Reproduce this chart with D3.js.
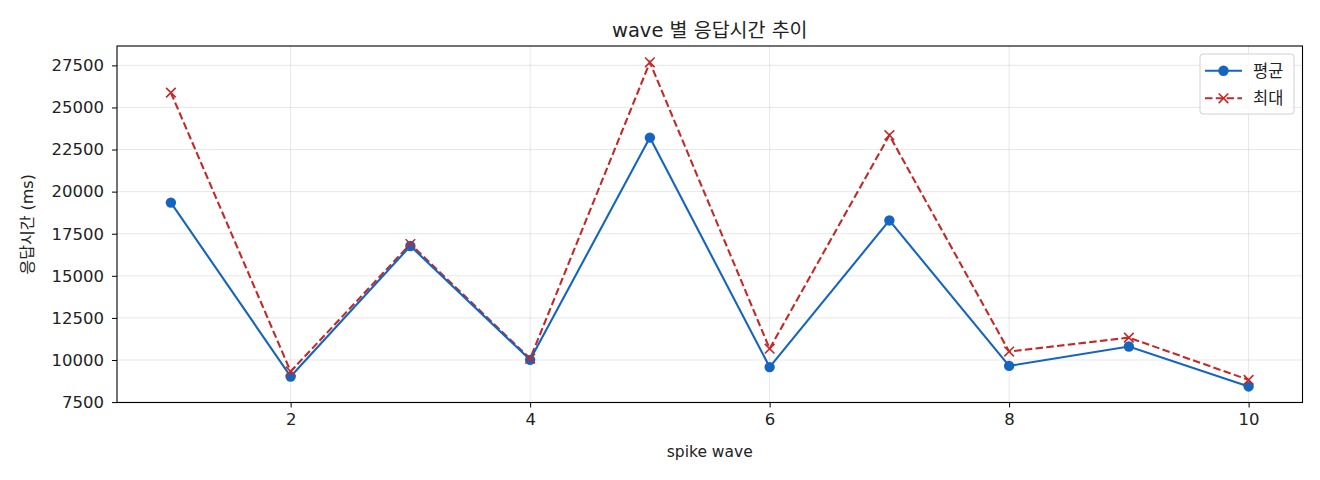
<!DOCTYPE html>
<html><head><meta charset="utf-8">
<script src="https://cdn.jsdelivr.net/npm/d3@7"></script>
<style>body{margin:0;background:#fff}svg{display:block}text{font-family:"DejaVu Sans","Noto Sans CJK KR",sans-serif;fill:#222}</style>
</head><body><svg id="c" width="1320" height="480"></svg>
<script>
const waves = [1,2,3,4,5,6,7,8,9,10];
const avgValues = [19350, 9020, 16770, 10010, 23210, 9580, 18290, 9650, 10800, 8430];
const maxValues = [25880, 9320, 16890, 10080, 27680, 10670, 23350, 10500, 11330, 8820];
const xTicks = [2,4,6,8,10];
const yTicks = [7500,10000,12500,15000,17500,20000,22500,25000,27500];
const seriesNames = ["평균","최대"];
const titleText = "wave 별 응답시간 추이";
const xLabel = "spike wave";
const yLabel = "응답시간 (ms)";

const BLUE = "#1565c0", RED = "#c62828";
const L=117, R=1302.5, T=46, B=402.5;
const svg = d3.select("#c");
const x = d3.scaleLinear().domain([0.55,10.45]).range([L,R]);
const y = d3.scaleLinear().domain([7476,28650]).range([B,T]);

// grid
const g = svg.append("g");
g.selectAll(".gx").data(xTicks).join("line").attr("x1",d=>x(d)).attr("x2",d=>x(d)).attr("y1",T).attr("y2",B).attr("stroke","#b0b0b0").attr("stroke-opacity",0.35).attr("stroke-width",0.9);
g.selectAll(".gy").data(yTicks).join("line").attr("y1",d=>y(d)).attr("y2",d=>y(d)).attr("x1",L).attr("x2",R).attr("stroke","#b0b0b0").attr("stroke-opacity",0.35).attr("stroke-width",0.9);

// axes
const xAxis = svg.append("g").attr("transform",`translate(0,${B})`).call(d3.axisBottom(x).tickValues(xTicks).tickSize(5).tickPadding(6).tickFormat(d3.format("d")));
const yAxis = svg.append("g").attr("transform",`translate(${L},0)`).call(d3.axisLeft(y).tickValues(yTicks).tickSize(5).tickPadding(8).tickFormat(d3.format("d")));
[xAxis,yAxis].forEach(a=>{a.select(".domain").remove();a.selectAll("text").style("font-size","16.5px").style("font-family",null).attr("fill","#222");a.selectAll("line").attr("stroke","#000").attr("stroke-width",1);});
svg.append("rect").attr("x",L).attr("y",T).attr("width",R-L).attr("height",B-T).attr("fill","none").attr("stroke","#000").attr("stroke-width",1.1);

// lines
const line = d3.line().x((d,i)=>x(waves[i])).y(d=>y(d));
svg.append("path").datum(maxValues).attr("d",line).attr("fill","none").attr("stroke",RED).attr("stroke-width",2.1).attr("stroke-dasharray","7.5,3.3");
svg.append("path").datum(avgValues).attr("d",line).attr("fill","none").attr("stroke",BLUE).attr("stroke-width",2.1);
svg.selectAll(".dot").data(avgValues).join("circle").attr("cx",(d,i)=>x(waves[i])).attr("cy",d=>y(d)).attr("r",5.2).attr("fill",BLUE);
const xs = 4.8;
svg.selectAll(".xm").data(maxValues).join("path").attr("d",(d,i)=>{const cx=x(waves[i]),cy=y(d);return `M${cx-xs},${cy-xs}L${cx+xs},${cy+xs}M${cx-xs},${cy+xs}L${cx+xs},${cy-xs}`;}).attr("stroke",RED).attr("stroke-width",1.6).attr("fill","none");

// legend
const lg = svg.append("g");
lg.append("rect").attr("x",1200).attr("y",54).attr("width",94).attr("height",60).attr("rx",3).attr("fill","#fff").attr("fill-opacity",0.8).attr("stroke","#d0d0d0");
lg.append("line").attr("x1",1205).attr("x2",1242).attr("y1",70.7).attr("y2",70.7).attr("stroke",BLUE).attr("stroke-width",2.1);
lg.append("circle").attr("cx",1223.5).attr("cy",70.7).attr("r",5.2).attr("fill",BLUE);
lg.append("line").attr("x1",1205).attr("x2",1242).attr("y1",98.3).attr("y2",98.3).attr("stroke",RED).attr("stroke-width",2.1).attr("stroke-dasharray","7.5,3.3");
lg.append("path").attr("d",`M${1223.5-xs},${98.3-xs}L${1223.5+xs},${98.3+xs}M${1223.5-xs},${98.3+xs}L${1223.5+xs},${98.3-xs}`).attr("stroke",RED).attr("stroke-width",1.6);
lg.selectAll(".lt").data(seriesNames).join("text").attr("x",1253).attr("y",(d,i)=>70.7+i*27.6).attr("dy","0.36em").style("font-size","16.5px").text(d=>d);

// titles
svg.append("text").attr("x",(L+R)/2).attr("y",37).attr("text-anchor","middle").style("font-size","19.5px").text(titleText);
svg.append("text").attr("x",(L+R)/2).attr("y",456.5).attr("text-anchor","middle").style("font-size","15.5px").text(xLabel);
svg.append("text").attr("transform",`translate(33,${(T+B)/2}) rotate(-90)`).attr("text-anchor","middle").style("font-size","16px").text(yLabel);
</script></body></html>
